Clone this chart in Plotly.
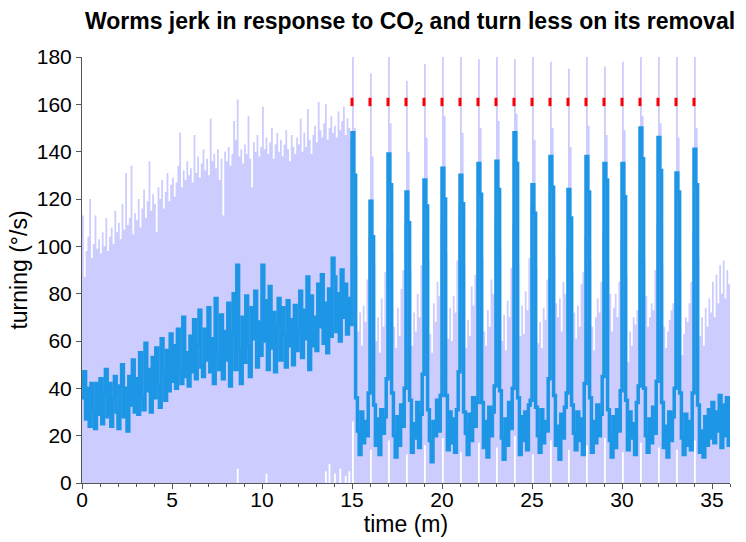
import plotly.graph_objects as go

# ---------------- data ----------------
sample_step_min = 0.1          # one value every 0.1 minute

# mean turning (deg/s), 0.0 - 14.9 min, ten samples per minute
mean_pre = [
    36, 47, 27, 40, 24, 42, 31, 23, 42, 29,
    44, 25, 38, 48, 28, 42, 24, 36, 45, 30,
    23, 41, 50, 28, 40, 22, 45, 33, 52, 30,
    44, 29, 55, 36, 31, 59, 39, 48, 30, 53,
    36, 57, 41, 32, 61, 45, 35, 56, 39, 63,
    43, 58, 40, 65, 47, 42, 70, 45, 55, 41,
    62, 47, 69, 44, 58, 73, 49, 45, 65, 52,
    74, 47, 61, 42, 78, 54, 48, 71, 44, 64,
    52, 76, 41, 63, 80, 48, 92, 56, 42, 70,
    51, 79, 58, 45, 74, 61, 81, 49, 68, 54,
    92, 60, 77, 48, 83, 57, 72, 47, 66, 78,
    52, 74, 63, 49, 77, 58, 69, 50, 75, 56,
    64, 81, 53, 73, 61, 87, 48, 79, 58, 70,
    56, 84, 66, 88, 59, 76, 55, 82, 62, 95,
    87, 64, 80, 60, 90, 70, 84, 63, 78, 67,
]

# mean turning during CO2 pulses, one row per minute 15..34
mean_cycles = [
    [148, 130, 36, 22, 12, 30, 17, 26, 20, 38],
    [119, 104, 33, 16, 27, 12, 31, 21, 28, 44],
    [139, 126, 38, 20, 11, 28, 16, 33, 24, 40],
    [123, 110, 35, 13, 25, 19, 34, 15, 29, 46],
    [128, 117, 31, 18, 9, 26, 20, 35, 22, 37],
    [133, 120, 37, 14, 30, 17, 27, 13, 31, 47],
    [130, 118, 30, 21, 12, 29, 18, 36, 24, 34],
    [135, 122, 34, 15, 26, 11, 32, 20, 30, 41],
    [136, 124, 39, 19, 10, 27, 16, 34, 23, 40],
    [148, 135, 36, 12, 28, 18, 30, 14, 33, 35],
    [126, 114, 32, 20, 13, 31, 17, 26, 22, 44],
    [138, 125, 37, 16, 24, 10, 29, 19, 32, 38],
    [124, 112, 33, 21, 14, 30, 18, 27, 12, 42],
    [138, 123, 36, 13, 26, 17, 33, 20, 29, 45],
    [135, 128, 31, 18, 11, 28, 15, 31, 22, 39],
    [135, 121, 35, 14, 30, 19, 25, 12, 34, 41],
    [150, 137, 40, 20, 13, 27, 17, 32, 21, 43],
    [146, 132, 34, 15, 24, 11, 30, 18, 28, 40],
    [131, 123, 38, 19, 12, 29, 16, 26, 14, 38],
    [141, 126, 33, 13, 22, 11, 28, 16, 31, 19],
]
mean_tail = [34, 17, 30, 22, 37, 15, 33, 20, 36, 16, 35]   # 35.0 - 36.0 min

# upper edge of the spread band
upper_pre = [
    113, 87, 98, 104, 120, 95, 101, 113, 99, 103,
    97, 106, 100, 112, 98, 104, 108, 101, 115, 106,
    110, 103, 118, 107, 131, 109, 112, 134, 105, 114,
    111, 120, 108, 116, 124, 112, 119, 136, 115, 122,
    118, 106, 125, 120, 128, 116, 123, 131, 119, 126,
    129, 121, 127, 134, 148, 125, 132, 128, 136, 130,
    133, 127, 147, 131, 138, 129, 135, 141, 132, 137,
    130, 154, 136, 139, 133, 141, 128, 137, 113, 140,
    136, 142, 134, 139, 153, 145, 162, 138, 141, 135,
    143, 139, 155, 137, 125, 144, 140, 147, 138, 142,
    159, 141, 146, 139, 144, 150, 137, 143, 148, 140,
    145, 138, 143, 149, 141, 136, 147, 142, 139, 146,
    143, 154, 140, 148, 142, 158, 145, 139, 147, 151,
    144, 161, 149, 146, 152, 160, 145, 150, 155, 148,
    151, 146, 157, 149, 153, 159, 147, 154, 150, 145,
]
upper_cycles = [
    [185, 150, 96, 64, 72, 58, 75, 68, 86, 104],
    [173, 138, 92, 60, 70, 55, 78, 66, 89, 108],
    [185, 152, 98, 66, 57, 74, 62, 82, 90, 112],
    [170, 140, 90, 58, 72, 64, 80, 70, 92, 106],
    [177, 146, 94, 63, 55, 76, 68, 85, 79, 110],
    [185, 155, 97, 61, 74, 60, 79, 72, 94, 115],
    [185, 148, 92, 57, 69, 62, 83, 75, 88, 108],
    [179, 150, 95, 64, 58, 73, 66, 86, 80, 112],
    [185, 153, 99, 60, 71, 56, 77, 70, 91, 109],
    [179, 156, 93, 62, 75, 63, 81, 73, 95, 118],
    [185, 145, 91, 59, 68, 57, 74, 69, 86, 105],
    [178, 150, 96, 76, 70, 78, 64, 85, 80, 100],
    [175, 142, 90, 72, 61, 75, 66, 84, 89, 104],
    [185, 151, 94, 66, 56, 70, 78, 72, 85, 107],
    [176, 147, 92, 80, 64, 74, 80, 70, 85, 102],
    [178, 149, 88, 51, 64, 58, 70, 67, 73, 98],
    [185, 155, 95, 79, 66, 70, 76, 73, 90, 110],
    [185, 152, 93, 66, 57, 64, 69, 73, 76, 103],
    [185, 146, 90, 54, 63, 70, 68, 76, 85, 106],
    [185, 150, 95, 62, 70, 58, 74, 66, 78, 72],
]
upper_tail = [85, 70, 88, 76, 92, 80, 94, 78, 90, 84, 96]

# lower edge of the band (zero except where noted)
lower_pre_times = [8.6, 10.2, 13.5, 13.7, 14.0, 14.3, 14.6, 14.8]
lower_pre_vals = [6, 4, 5, 8, 4, 6, 3, 5]
stim_minutes = list(range(15, 35))
lower_peak_vals = [26, 14, 18, 12, 16, 19, 13, 17, 15, 20,
                   12, 18, 14, 16, 19, 13, 17, 15, 14, 18]
stim_marker_level = 161

# ---------------- assemble series ----------------
mean = mean_pre + [v for row in mean_cycles for v in row] + mean_tail
upper = upper_pre + [v for row in upper_cycles for v in row] + upper_tail
n = len(mean)
t = [round(i * sample_step_min, 1) for i in range(n)]
lower = [0] * n
for tt, v in zip(lower_pre_times, lower_pre_vals):
    lower[int(round(tt / sample_step_min))] = v
for m, v in zip(stim_minutes, lower_peak_vals):
    lower[int(round(m / sample_step_min))] = v

LAV = "rgb(204,204,255)"
BLUE = "rgb(30,150,230)"
AX = "#555555"
FONT = "Liberation Sans, Arial, sans-serif"

fig = go.Figure()
fig.add_trace(go.Scatter(x=t, y=lower, mode="lines", line=dict(width=0, shape="hv", color=LAV),
                         showlegend=False, hoverinfo="skip"))
fig.add_trace(go.Scatter(x=t, y=upper, mode="lines", fill="tonexty", fillcolor=LAV,
                         line=dict(width=0, shape="hv", color=LAV),
                         showlegend=False, hoverinfo="skip"))
fig.add_trace(go.Scatter(x=t, y=mean, mode="lines", line=dict(width=3.5, shape="hv", color=BLUE),
                         showlegend=False))
fig.add_trace(go.Scatter(x=stim_minutes, y=[stim_marker_level] * len(stim_minutes), mode="markers",
                         marker=dict(symbol="line-ns", size=6, line=dict(width=3, color="red")),
                         showlegend=False))

axis_common = dict(showline=True, linecolor=AX, linewidth=1, ticks="outside", ticklen=5,
                   tickcolor=AX, showgrid=False, zeroline=False, automargin=False,
                   tickfont=dict(family=FONT, size=21, color="black"),
                   title_font=dict(family=FONT, size=23, color="black"))

fig.update_layout(
    width=746, height=542,
    margin=dict(l=82, r=16, t=57, b=59, autoexpand=False),
    paper_bgcolor="white", plot_bgcolor="white",
    title=dict(text="<b>Worms jerk in response to CO<sub>2</sub> and turn less on its removal</b>",
               x=410 / 746, xref="container", xanchor="center", y=1 - 21 / 542, yref="container",
               yanchor="middle", font=dict(family=FONT, size=23, color="black"),
               automargin=False),
    xaxis=dict(range=[0, 36], dtick=5, tick0=0, ticklabelstandoff=-7,
               title=dict(text="time (m)", standoff=0),
               minor=dict(dtick=1, ticks="outside", ticklen=3, tickcolor=AX), **axis_common),
    yaxis=dict(range=[0, 180], dtick=20, tick0=0, title=dict(text="turning (°/s)", standoff=2),
               **axis_common),
)

fig.write_html("out.html")
